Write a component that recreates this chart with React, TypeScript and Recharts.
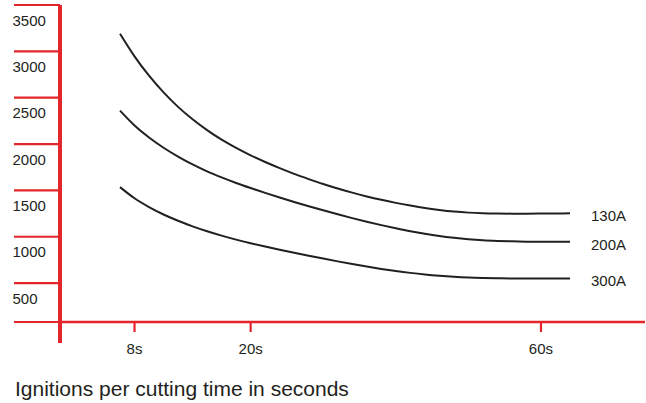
import { LineChart, Line, XAxis, YAxis, LabelList } from "recharts";

const RED = "#e3262b";
const INK = "#231f20";
const FONT = '"Liberation Sans", Arial, sans-serif';

// cutting time (s); the drawing spaces these evenly, so the axis is categorical
const seconds = [
  6.5, 8, 9.5, 11, 12.5, 14, 15.5, 17, 18.5, 20, 22, 24, 26, 28, 30, 32, 34, 36, 38,
  40, 42, 44, 46, 48, 50, 52, 54, 56, 58, 60, 62, 64,
];
const xTickLabels = [8, 20, 60];

const yFloor = 80;
const yLabels = [500, 1000, 1500, 2000, 2500, 3000, 3500];

const ignitions130A = [
  3190, 2946, 2737, 2557, 2401, 2267, 2150, 2047, 1958, 1878, 1806, 1740, 1678, 1622,
  1569, 1521, 1476, 1435, 1398, 1365, 1336, 1310, 1289, 1272, 1260, 1253, 1250, 1249,
  1249, 1250, 1251, 1252,
];
const ignitions200A = [
  2360, 2200, 2070, 1960, 1865, 1780, 1705, 1640, 1580, 1525, 1473, 1423, 1375, 1329,
  1285, 1242, 1201, 1162, 1125, 1091, 1059, 1031, 1007, 988, 973, 962, 955, 950, 947,
  946, 945, 945,
];
const ignitions300A = [
  1535, 1415, 1320, 1240, 1172, 1112, 1059, 1012, 969, 930, 894, 860, 827, 795, 764,
  734, 705, 678, 653, 630, 610, 593, 579, 568, 560, 555, 552, 550, 550, 550, 550, 550,
];

const series = [
  { key: "a130", name: "130A", values: ignitions130A },
  { key: "a200", name: "200A", values: ignitions200A },
  { key: "a300", name: "300A", values: ignitions300A },
];

const data = seconds.map((t, i) => {
  const row: Record<string, number> = { t };
  series.forEach((s) => (row[s.key] = s.values[i]));
  return row;
});

function YTick({ x, y, payload }: any) {
  const v = payload.value;
  return (
    <g>
      <line x1={x} x2={x + 46} y1={y} y2={y} stroke={RED} strokeWidth={2.2} />
      {v === yFloor ? (
        <line x1={x + 46} x2={x + 46} y1={y} y2={y + 21} stroke={RED} strokeWidth={4} />
      ) : (
        <text x={x - 1.5} y={y + 20.5} fill={INK} fontSize={15} fontFamily={FONT}>
          {v}
        </text>
      )}
    </g>
  );
}

function XTick({ x, y, payload }: any) {
  if (!xTickLabels.includes(payload.value)) return <g />;
  return (
    <g>
      <line x1={x} x2={x} y1={y - 10} y2={y} stroke={RED} strokeWidth={2.2} />
      <text x={x} y={y + 22} textAnchor="middle" fill={INK} fontSize={15} fontFamily={FONT}>
        {payload.value}s
      </text>
    </g>
  );
}

const endLabel = (name: string) => (p: any) => {
  if (p.index !== seconds.length - 1) return <g />;
  return (
    <text x={p.x + 21} y={p.y + 8} fill={INK} fontSize={15} fontFamily={FONT}>
      {name}
    </text>
  );
};

export default function App() {
  return (
    <div style={{ position: "absolute", left: 0, top: 0, width: 646, height: 403, background: "#fff" }}>
      <LineChart width={646} height={403} data={data} margin={{ top: 5, right: 1, left: 0, bottom: 0 }}>
        <XAxis
          dataKey="t"
          type="category"
          scale="point"
          padding={{ left: 60, right: 75 }}
          height={81}
          interval={0}
          tickSize={10}
          tickMargin={0}
          tickLine={false}
          axisLine={{ stroke: RED, strokeWidth: 2.5 }}
          tick={<XTick />}
        />
        <YAxis
          type="number"
          domain={[yFloor, 3500]}
          ticks={[yFloor, ...yLabels]}
          interval={0}
          width={60}
          tickSize={46}
          tickMargin={0}
          tickLine={false}
          axisLine={{ stroke: RED, strokeWidth: 4 }}
          tick={<YTick />}
        />
        {series.map((s) => (
          <Line
            key={s.key}
            dataKey={s.key}
            name={s.name}
            type="monotone"
            stroke={INK}
            strokeWidth={2}
            dot={false}
            activeDot={false}
            isAnimationActive={false}
          >
            <LabelList dataKey={s.key} content={endLabel(s.name)} />
          </Line>
        ))}
      </LineChart>
      <svg width={646} height={403} style={{ position: "absolute", left: 0, top: 0, pointerEvents: "none" }}>
        <text x={15} y={396} fill={INK} fontSize={21} fontFamily={FONT}>
          Ignitions per cutting time in seconds
        </text>
      </svg>
    </div>
  );
}
